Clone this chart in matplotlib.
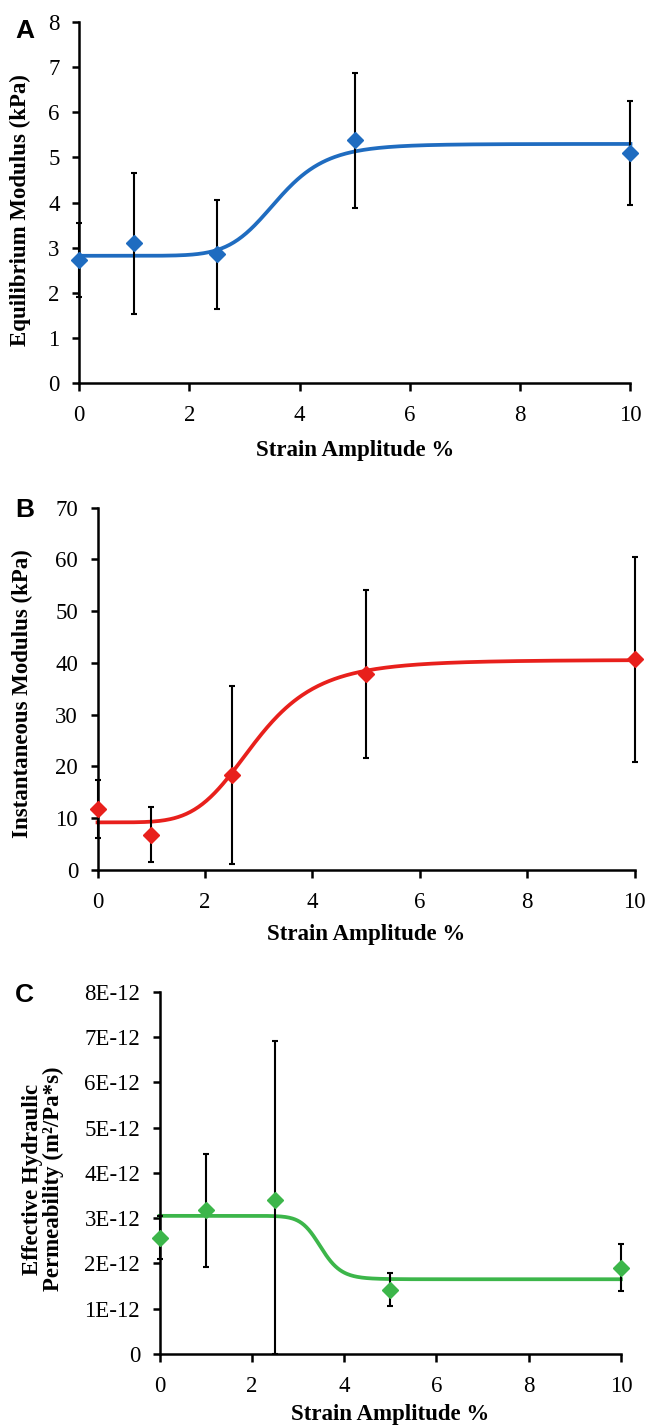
import numpy as np
import matplotlib
matplotlib.use("Agg")
import matplotlib.pyplot as plt

plt.rcParams['font.family'] = ['Liberation Serif', 'DejaVu Serif']

# strain amplitudes (%)
strain = [0, 1, 2.5, 5, 10]

# A: equilibrium modulus (kPa)
eq_mod = [2.72, 3.1, 2.85, 5.38, 5.1]
eq_err = [0.82, 1.56, 1.2, 1.5, 1.15]

# B: instantaneous modulus (kPa)
inst_mod = [11.8, 6.8, 18.3, 37.8, 40.7]
inst_err = [5.6, 5.3, 17.2, 16.2, 19.8]

# C: effective hydraulic permeability (m^2/Pa*s)
perm = [2.57e-12, 3.17e-12, 3.4e-12, 1.42e-12, 1.9e-12]
perm_err_lo = [0.47e-12, 1.25e-12, 3.4e-12, 0.36e-12, 0.52e-12]
perm_err_hi = [0.47e-12, 1.25e-12, 3.5e-12, 0.36e-12, 0.52e-12]

# fitted sigmoid (Hill) parameters: low, high, x50, n
fit_a = (2.82, 5.30, 3.6, 8)
fit_b = (9.2, 40.6, 2.95, 5)
fit_c = (3.05e-12, 1.65e-12, 3.5, 16)

perm_ticks = [0, 1e-12, 2e-12, 3e-12, 4e-12, 5e-12, 6e-12, 7e-12, 8e-12]
perm_labels = ['0', '1E-12', '2E-12', '3E-12', '4E-12', '5E-12', '6E-12', '7E-12', '8E-12']

TICK_FS = 16.5
LABEL_FS = 16.5


def hill(x, p):
    lo, hi, x50, n = p
    return lo + (hi - lo) * x**n / (x50**n + x**n)


def panel(ax, y, err, fit, color, ylim, yticks):
    xs = np.linspace(0, 10, 400)
    ax.plot(xs, hill(xs, fit), color=color, lw=2.7, zorder=2, clip_on=False)
    ax.errorbar(strain, y, yerr=err, fmt='none', ecolor='black', elinewidth=1.5,
                capsize=2, capthick=1.5, zorder=3, clip_on=False)
    ax.plot(strain, y, 'D', color=color, ms=8.5, zorder=4, clip_on=False)
    ax.set_xlim(0, 10)
    ax.set_ylim(*ylim)
    ax.set_xticks([0, 2, 4, 6, 8, 10])
    ax.set_yticks(yticks)
    for s in ['top', 'right']:
        ax.spines[s].set_visible(False)
    for s in ['left', 'bottom']:
        ax.spines[s].set_linewidth(1.8)
    ax.tick_params(direction='out', width=1.8, length=5, labelsize=TICK_FS)
    ax.tick_params(axis='y', pad=9)
    ax.tick_params(axis='x', length=6, pad=10)
    ax.set_xlabel('Strain Amplitude %', fontsize=LABEL_FS, fontweight='bold')


fig = plt.figure(figsize=(6.45, 14.26), dpi=100)

axA = fig.add_axes([0.1225, 0.7314, 0.855, 0.2531])
panel(axA, eq_mod, eq_err, fit_a, '#1f6cc0', (0, 8), range(0, 9))
axA.set_ylabel('Equilibrium Modulus (kPa)', fontsize=LABEL_FS, fontweight='bold')
axA.yaxis.set_label_coords(-0.087, 0.48)
axA.xaxis.set_label_coords(0.5, -0.158)

axB = fig.add_axes([0.1512, 0.3899, 0.8326, 0.2541])
panel(axB, inst_mod, inst_err, fit_b, '#e8201c', (0, 70), range(0, 71, 10))
axB.set_ylabel('Instantaneous Modulus (kPa)', fontsize=LABEL_FS, fontweight='bold')
axB.yaxis.set_label_coords(-0.12, 0.486)
axB.xaxis.set_label_coords(0.5, -0.149)

axC = fig.add_axes([0.2474, 0.0505, 0.7153, 0.2541])
panel(axC, perm, [perm_err_lo, perm_err_hi], fit_c, '#3cb64a', (0, 8e-12), perm_ticks)
axC.set_yticklabels(perm_labels)
axC.set_ylabel('Effective Hydraulic\nPermeability (m²/Pa*s)', fontsize=LABEL_FS,
               fontweight='bold', linespacing=1.0)
axC.yaxis.set_label_coords(-0.207, 0.483)
axC.xaxis.set_label_coords(0.5, -0.138)

# panel letters
for lx, ly, t in [(15, 38, 'A'), (15, 517, 'B'), (15, 1002, 'C')]:
    fig.text(lx / 645, 1 - ly / 1426, t, fontsize=19, fontweight='bold',
             family=['Liberation Sans', 'DejaVu Sans'], ha='left', va='baseline')

fig.savefig('out.png', dpi=100)
